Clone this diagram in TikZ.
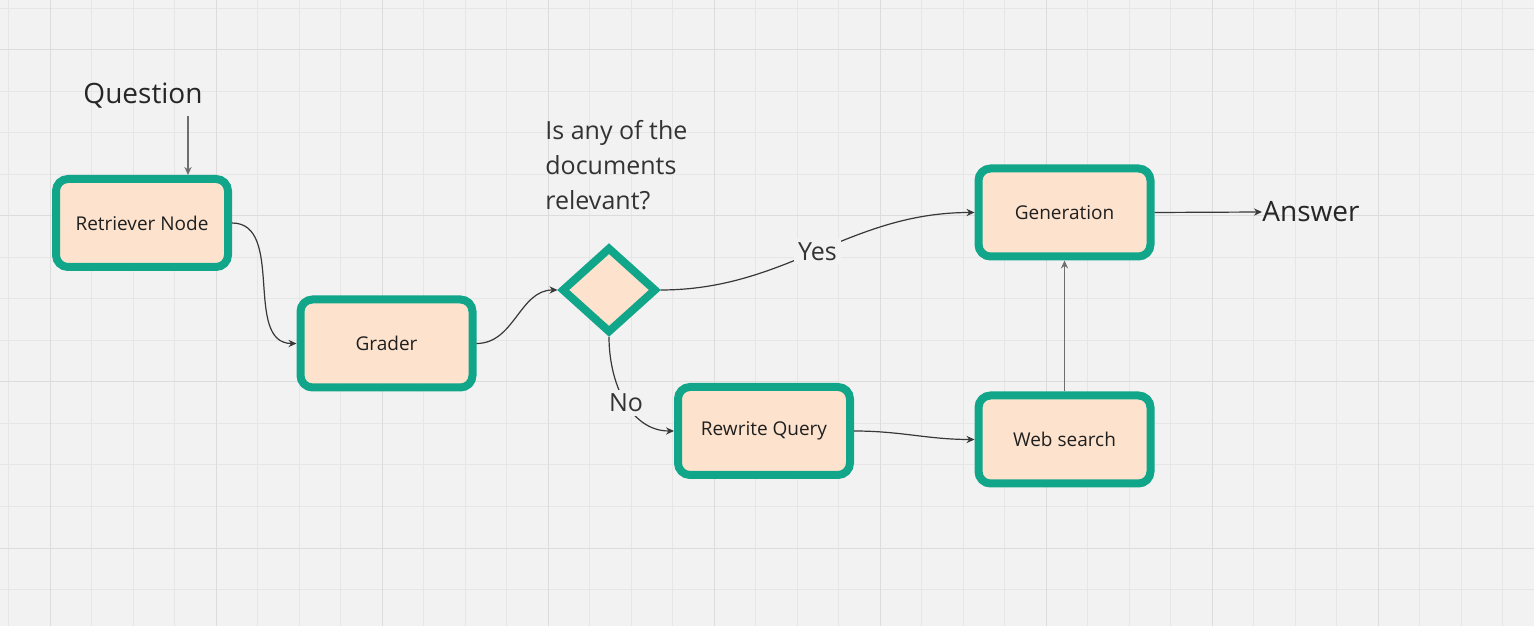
\documentclass[tikz,border=0pt]{standalone}
\usepackage{fontspec}
\setmainfont{Open Sans}
\usetikzlibrary{arrows.meta,shapes.geometric,positioning}

\definecolor{boardbg}{HTML}{F2F2F2}
\definecolor{gridthin}{HTML}{E6E6E6}
\definecolor{gridthick}{HTML}{DCDCDC}
\definecolor{stepfill}{HTML}{FDE3CE}
\definecolor{stepedge}{HTML}{11A68A}
\definecolor{inkgray}{HTML}{383838}
\definecolor{linkgray}{HTML}{6E6E6E}

\begin{document}
\begin{tikzpicture}[x = 0.5pt, y = 0.5pt,
	stepbox/.style = {draw=stepedge, fill=stepfill, line width=4pt, rounded corners=6pt, minimum width=86pt, minimum height=44pt, inner sep=0pt, text=black!88, font=\fontsize{9.5}{11}\selectfont},
	choice/.style = {diamond, draw=stepedge, fill=stepfill, line width=4pt, minimum width=47.5pt, minimum height=43pt, inner sep=0pt},
	bigtext/.style = {inner sep=0pt, text=black!85, font=\fontsize{14}{17}\selectfont},
	midtext/.style = {inner sep=0pt, text=black!80, font=\fontsize{12.5}{17.5}\selectfont},
	edgelabel/.style = {midtext, fill=boardbg, inner sep=2pt},
	flow/.style = {draw=inkgray, line width=0.6pt, -{Stealth[length=4pt, width=3.6pt]}},
	plainflow/.style = {flow, draw=linkgray, line width=0.8pt}]

	\path[use as bounding box, fill=boardbg] (0,0) rectangle (1534,626);

	\foreach \i in {0,...,36}
		\draw[gridthin, line width=0.5pt] ({8.5+41.5*\i},0) -- ({8.5+41.5*\i},626);
	\foreach \i in {0,...,14}
		\draw[gridthin, line width=0.5pt] (0,{617.5-41.5*\i}) -- (1534,{617.5-41.5*\i});
	\foreach \i in {0,...,8}
		\draw[gridthick, line width=0.5pt] ({50+166*\i},0) -- ({50+166*\i},626);
	\foreach \i in {0,...,3}
		\draw[gridthick, line width=0.5pt] (0,{576-166*\i}) -- (1534,{576-166*\i});

	\node[bigtext] (question) at (143,530) {Question};
	\coordinate (qfoot) at (188,510);

	\node[stepbox] (ret) at (142,403) {Retriever Node};
	\node[stepbox] (grader) at (386.5,282.5) {Grader};
	\node[choice] (check) at (609,336) {};
	\node[midtext, anchor=west, align=left] (ask) at (545,461) {Is any of the\\documents\\relevant?};
	\node[stepbox] (rewrite) at (764,195) {Rewrite Query};
	\node[stepbox] (web) at (1064.5,186.5) {Web search};
	\node[stepbox] (gen) at (1064.5,413.5) {Generation};
	\node[bigtext, anchor=west] (answer) at (1262,414) {Answer};

	\draw[plainflow] (qfoot) -- (qfoot |- ret.north);
	\draw[flow] (ret.east) to[out=0, in=180] (grader.west);
	\draw[flow] (grader.east) to[out=0, in=180] (check.west);
	\draw[flow] (check.east) to[out=0, in=180] node[edgelabel] (yes) {Yes} (gen.west);
	\draw[flow] (check.south) to[out=-90, in=180] node[edgelabel, pos=0.52] (no) {No} (rewrite.west);
	\draw[flow] (rewrite.east) to[out=0, in=180] (web.west);
	\draw[plainflow] (web.north) -- (gen.south);
	\draw[flow] (gen.east) -- (answer.west);
\end{tikzpicture}
\end{document}
